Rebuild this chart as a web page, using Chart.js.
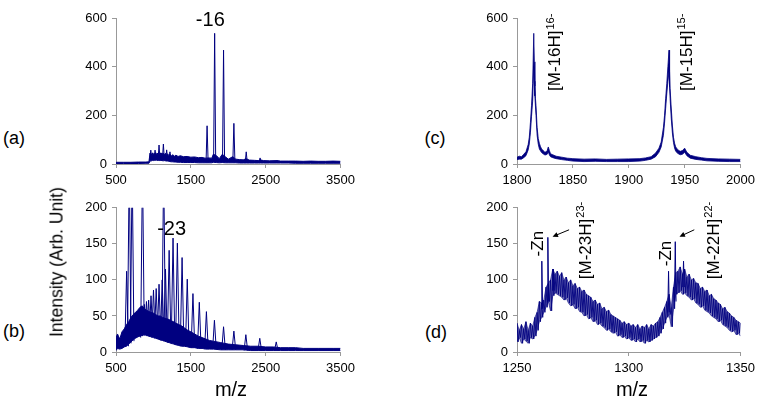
<!DOCTYPE html>
<html>
<head>
<meta charset="utf-8">
<script src="https://cdn.jsdelivr.net/npm/chart.js@4.4.1/dist/chart.umd.min.js"></script>
<style>
  body { margin: 0; background: #fff; }
  #page { position: relative; width: 762px; height: 401px; overflow: hidden; font-family: "Liberation Sans", Arial, sans-serif; }
  canvas { position: absolute; }
  .lbl { position: absolute; transform: translate(-50%, -50%); white-space: nowrap; color: #000; }
</style>
</head>
<body>
<div id="page">
  <canvas id="chartA" width="300" height="195" style="left:60px;top:0px"></canvas>
  <canvas id="chartB" width="300" height="185" style="left:60px;top:195px"></canvas>
  <canvas id="chartC" width="300" height="195" style="left:460px;top:0px"></canvas>
  <canvas id="chartD" width="300" height="185" style="left:460px;top:195px"></canvas>

  <div class="lbl" style="left:14px;top:138px;font-size:18px">(a)</div>
  <div class="lbl" style="left:14px;top:331px;font-size:18px">(b)</div>
  <div class="lbl" style="left:435px;top:138px;font-size:18px">(c)</div>
  <div class="lbl" style="left:436px;top:332px;font-size:18px">(d)</div>
  <div class="lbl" style="left:57px;top:262px;font-size:17.5px;transform:translate(-50%,-50%) rotate(-90deg)">Intensity (Arb. Unit)</div>
  <div class="lbl" style="left:231px;top:389px;font-size:20px">m/z</div>
  <div class="lbl" style="left:632px;top:389px;font-size:20px">m/z</div>
</div>

<script>
const NAVY = '#000080';
const FONT = '"Liberation Sans", Arial, sans-serif';

// (a) full scan, charge states around -16
const aMz    = [500, 600, 700, 800, 900, 940, 955, 962, 970, 980, 990, 1000, 1010, 1020, 1030, 1040, 1050, 1060, 1070, 1085, 1100, 1115, 1130, 1145, 1160, 1175, 1190, 1205, 1220, 1240, 1260, 1280, 1300, 1330, 1360, 1400, 1450, 1500, 1550, 1600, 1650, 1690, 1730, 1780, 1800, 1840, 1880, 1920, 1960, 2000, 2060, 2100, 2150, 2200, 2240, 2280, 2350, 2400, 2430, 2470, 2550, 2650, 2700, 2800, 2900, 3000, 3100, 3200, 3300, 3400, 3500];
const aUpper = [7, 7, 7, 8, 8, 9, 45, 30, 42, 35, 46, 38, 44, 36, 47, 38, 45, 40, 48, 38, 46, 40, 45, 38, 44, 36, 42, 35, 40, 34, 38, 32, 36, 31, 34, 30, 31, 28, 29, 26, 27, 24, 25, 24, 40, 35, 22, 40, 30, 20, 30, 20, 18, 17, 22, 16, 15, 14, 17, 14, 13, 14, 12, 12, 12, 11, 12, 11, 11, 12, 11];
const aLower = [2, 2, 2, 2, 3, 3, 12, 14, 13, 14, 15, 14, 15, 16, 15, 16, 15, 14, 15, 14, 15, 14, 13, 14, 13, 12, 12, 11, 10, 9, 9, 8, 8, 7, 7, 6, 6, 6, 6, 5, 5, 5, 5, 5, 7, 6, 5, 6, 5, 5, 5, 5, 4, 4, 4, 4, 4, 4, 4, 4, 4, 4, 4, 4, 3, 3, 3, 3, 3, 3, 3];
const aPeakMz   = [965, 1022, 1075, 1133, 1177, 1221, 1717, 1818, 1937, 2075, 2240, 2425, 2650];
const aPeakTop  = [57, 57, 78, 82, 58, 50, 157, 537, 468, 167, 50, 25, 14];
const aPeakBase = [14, 15, 15, 14, 13, 13, 6, 8, 7, 6, 5, 5, 5];

// (b) full scan, charge states around -23
const bMz    = [500, 520, 550, 580, 610, 640, 670, 700, 730, 760, 790, 820, 850, 880, 910, 940, 970, 1000, 1030, 1060, 1090, 1120, 1150, 1180, 1210, 1240, 1270, 1300, 1340, 1380, 1420, 1460, 1500, 1550, 1600, 1650, 1700, 1750, 1800, 1900, 2000, 2100, 2200, 2300, 2400, 2500, 2600, 2700, 2800, 2900, 3000, 3200, 3400, 3500];
const bUpper = [20, 25, 18, 28, 32, 38, 42, 48, 52, 55, 58, 62, 64, 60, 58, 56, 55, 54, 52, 50, 50, 48, 47, 46, 45, 43, 42, 40, 38, 36, 33, 30, 28, 25, 22, 20, 18, 16, 15, 13, 11, 10, 9, 8, 8, 7, 7, 6, 6, 6, 5, 5, 5, 5];
const bLower = [2, 5, 4, 5, 7, 8, 11, 14, 17, 19, 21, 22, 23, 24, 23, 22, 21, 20, 19, 18, 17, 16, 15, 14, 13, 12, 11, 10, 9, 8, 8, 7, 6, 6, 5, 5, 4, 4, 4, 3, 3, 3, 3, 2, 2, 2, 2, 2, 2, 2, 2, 2, 2, 2];
const bPeakMz   = [642, 677, 716, 806, 829, 854, 879, 907, 936, 968, 1001, 1037, 1075, 1117, 1137, 1161, 1210, 1262, 1320, 1383, 1452, 1528, 1613, 1708, 1815, 1937, 2075, 2235, 2421, 2641];
const bPeakTop  = [112, 260, 260, 58, 62, 260, 66, 70, 72, 78, 86, 88, 94, 100, 260, 115, 141, 158, 151, 131, 101, 81, 69, 56, 44, 35, 29, 24, 19, 14];
const bPeakBase = [8, 12, 15, 20, 22, 23, 24, 23, 22, 21, 20, 19, 18, 16, 16, 15, 13, 11, 10, 8, 7, 6, 5, 4, 4, 3, 3, 2, 2, 2];

// (c) zoom on 16- and 15-
const cMz    = [1800, 1802, 1804, 1806, 1808, 1810, 1811, 1812, 1813, 1814, 1815, 1815.5, 1816, 1816.5, 1817, 1818, 1819, 1820, 1821, 1822, 1823, 1824, 1825, 1826, 1827, 1828, 1829, 1830, 1832, 1835, 1840, 1845, 1850, 1860, 1870, 1880, 1890, 1900, 1910, 1915, 1920, 1924, 1927, 1929, 1931, 1932, 1933, 1934, 1935, 1936, 1936.5, 1937, 1938, 1939, 1940, 1941, 1942, 1944, 1946, 1948, 1950, 1952, 1955, 1960, 1965, 1970, 1980, 1990, 2000];
const cUpper = [28, 32, 30, 40, 50, 80, 110, 170, 240, 330, 537, 420, 320, 270, 240, 150, 105, 85, 72, 62, 58, 52, 48, 50, 55, 70, 55, 42, 38, 32, 28, 24, 22, 20, 21, 19, 20, 21, 22, 25, 30, 45, 65, 90, 150, 200, 270, 330, 400, 468, 380, 310, 230, 160, 110, 85, 70, 58, 52, 55, 65, 48, 36, 30, 26, 23, 21, 20, 19];
const cLower = [18, 20, 20, 26, 34, 58, 82, 128, 196, 258, 400, 340, 280, 238, 200, 118, 82, 62, 54, 47, 43, 40, 37, 38, 40, 50, 37, 30, 26, 22, 18, 15, 12, 10, 11, 10, 10, 10, 12, 15, 20, 30, 48, 70, 118, 168, 228, 288, 338, 380, 318, 268, 188, 128, 88, 65, 52, 43, 38, 40, 48, 34, 24, 19, 16, 13, 11, 10, 10];

// (d) zoom on 23- and 22-
const dMz    = [1250, 1251, 1252, 1253, 1254, 1255, 1256, 1257, 1258, 1259, 1260, 1261, 1262, 1263, 1264, 1265, 1266, 1267, 1268, 1269, 1270, 1271, 1272, 1273, 1274, 1275, 1276, 1277, 1278, 1279, 1280, 1281, 1282, 1283, 1284, 1285, 1286, 1287, 1288, 1289, 1290, 1291, 1292, 1293, 1294, 1295, 1296, 1297, 1298, 1299, 1300, 1301, 1302, 1303, 1304, 1305, 1306, 1307, 1308, 1309, 1310, 1311, 1312, 1313, 1314, 1315, 1316, 1317, 1318, 1319, 1320, 1321, 1322, 1323, 1324, 1325, 1326, 1327, 1328, 1329, 1330, 1331, 1332, 1333, 1334, 1335, 1336, 1337, 1338, 1339, 1340, 1341, 1342, 1343, 1344, 1345, 1346, 1347, 1348, 1349, 1350];
const dUpper = [40, 30, 38, 32, 42, 30, 40, 36, 48, 55, 70, 68, 72, 90, 95, 100, 115, 108, 112, 105, 110, 100, 104, 96, 100, 92, 95, 88, 90, 84, 86, 80, 78, 76, 70, 72, 66, 68, 60, 62, 56, 58, 52, 50, 48, 46, 44, 40, 42, 38, 40, 36, 38, 34, 38, 32, 36, 34, 38, 32, 38, 36, 40, 42, 48, 55, 62, 70, 80, 62, 90, 110, 112, 118, 108, 115, 104, 108, 100, 102, 96, 95, 88, 90, 84, 86, 78, 80, 74, 72, 68, 66, 60, 62, 56, 54, 50, 48, 44, 42, 40];
const dLower = [14, 20, 12, 18, 15, 12, 20, 18, 22, 30, 42, 48, 55, 62, 70, 57, 78, 82, 80, 78, 76, 72, 75, 68, 64, 66, 60, 62, 56, 55, 50, 52, 46, 48, 42, 44, 38, 40, 36, 34, 30, 32, 28, 26, 28, 22, 24, 20, 22, 18, 20, 16, 18, 14, 18, 14, 16, 12, 16, 14, 16, 18, 20, 22, 26, 32, 40, 48, 52, 35, 60, 80, 82, 85, 80, 82, 78, 76, 72, 74, 68, 66, 62, 64, 58, 56, 54, 50, 48, 46, 42, 44, 38, 36, 34, 30, 28, 30, 24, 26, 22];
const dPeakMz   = [1261.1, 1263.8, 1266.3, 1317.8, 1320.8, 1324.5];
const dPeakTop  = [126, 159, 115, 112, 153, 126];
const dPeakBase = [60, 70, 85, 55, 70, 90];

Chart.defaults.font.family = FONT;
Chart.defaults.color = '#000';

function pts(xs, ys) {
  return xs.map((x, i) => ({ x: x, y: ys[i] }));
}

// noisy trace: alternate the read max / min of each step
function zigzag(xs, hi, lo) {
  const out = [];
  xs.forEach((x, i) => {
    out.push({ x: x, y: hi[i] }, { x: x + 0.5, y: lo[i] });
  });
  return out;
}

// narrow peaks drawn as thin wedges, separated by gaps
function sticks(mz, top, base, hw) {
  const out = [];
  mz.forEach((m, i) => {
    out.push({ x: m - hw, y: base[i] }, { x: m, y: top[i] }, { x: m + hw, y: base[i] }, { x: m + hw, y: null });
  });
  return out;
}

function notesPlugin(notes, arrows) {
  return {
    id: 'notes',
    afterDraw(chart) {
      const ctx = chart.ctx, xs = chart.scales.x, ys = chart.scales.y;
      ctx.save();
      ctx.fillStyle = '#000';
      ctx.strokeStyle = '#000';
      (notes || []).forEach(n => {
        const px = xs.getPixelForValue(n.x), py = ys.getPixelForValue(n.y);
        ctx.save();
        ctx.translate(px, py);
        ctx.font = n.size + 'px ' + FONT;
        if (n.rotate) {
          ctx.rotate(-Math.PI / 2);
          ctx.textAlign = 'left';
          ctx.textBaseline = 'alphabetic';
          ctx.fillText(n.text, 0, 0);
          if (n.sup) {
            const w = ctx.measureText(n.text).width;
            ctx.font = Math.round(n.size * 0.65) + 'px ' + FONT;
            ctx.fillText(n.sup, w + 1, -n.size * 0.4);
          }
        } else {
          ctx.textAlign = 'center';
          ctx.textBaseline = 'middle';
          ctx.fillText(n.text, 0, 0);
        }
        ctx.restore();
      });
      (arrows || []).forEach(a => {
        const x1 = xs.getPixelForValue(a.x1), y1 = ys.getPixelForValue(a.y1);
        const x2 = xs.getPixelForValue(a.x2), y2 = ys.getPixelForValue(a.y2);
        const ang = Math.atan2(y2 - y1, x2 - x1);
        ctx.lineWidth = 1;
        ctx.beginPath();
        ctx.moveTo(x1, y1);
        ctx.lineTo(x2 - 3 * Math.cos(ang), y2 - 3 * Math.sin(ang));
        ctx.stroke();
        ctx.beginPath();
        ctx.moveTo(x2, y2);
        ctx.lineTo(x2 - 6 * Math.cos(ang - 0.45), y2 - 6 * Math.sin(ang - 0.45));
        ctx.lineTo(x2 - 6 * Math.cos(ang + 0.45), y2 - 6 * Math.sin(ang + 0.45));
        ctx.closePath();
        ctx.fill();
      });
      ctx.restore();
    }
  };
}

function axis(min, max, step, fitFn) {
  return {
    type: 'linear', min: min, max: max,
    ticks: { stepSize: step, autoSkip: false, maxRotation: 0, padding: 5, font: { size: 13 }, color: '#000', callback: v => String(v) },
    grid: { display: true, drawOnChartArea: false, drawTicks: true, tickLength: 4, color: '#999' },
    border: { display: true, color: '#999', width: 1 },
    afterFit: fitFn
  };
}

function makeChart(id, o) {
  const datasets = [
    { data: pts(o.mz, o.lower), borderColor: NAVY, borderWidth: o.lw || 1, pointRadius: 0, fill: false },
    { data: pts(o.mz, o.upper), borderColor: NAVY, borderWidth: o.lw || 1, pointRadius: 0, fill: '-1', backgroundColor: o.bandFill || NAVY }
  ];
  if (o.zigzag) {
    datasets.push({ data: zigzag(o.mz, o.upper, o.lower), borderColor: NAVY, borderWidth: 0.9, pointRadius: 0, fill: false });
  }
  if (o.peakMz) {
    datasets.push({ data: sticks(o.peakMz, o.peakTop, o.peakBase, o.hw), borderColor: NAVY, borderWidth: 1, pointRadius: 0, fill: false, spanGaps: false });
  }
  new Chart(document.getElementById(id), {
    type: 'line',
    data: { datasets: datasets },
    options: {
      responsive: false,
      animation: false,
      events: [],
      layout: { padding: { top: o.padTop, right: o.padRight, left: 0, bottom: 0 } },
      elements: { line: { tension: 0 } },
      plugins: { legend: { display: false }, tooltip: { enabled: false } },
      scales: {
        x: axis(o.xMin, o.xMax, o.xStep, s => { s.height = o.xH; }),
        y: Object.assign(axis(0, o.yMax, o.yStep, s => { s.width = o.yW; }), { position: 'left' })
      }
    },
    plugins: [notesPlugin(o.notes, o.arrows)]
  });
}

makeChart('chartA', {
  mz: aMz, upper: aUpper, lower: aLower,
  peakMz: aPeakMz, peakTop: aPeakTop, peakBase: aPeakBase, hw: 14,
  xMin: 500, xMax: 3500, xStep: 1000, yMax: 600, yStep: 200,
  padTop: 18, padRight: 18, yW: 56, xH: 31,
  notes: [{ text: '-16', x: 1760, y: 588, size: 20 }]
});

makeChart('chartB', {
  mz: bMz, upper: bUpper, lower: bLower,
  peakMz: bPeakMz, peakTop: bPeakTop, peakBase: bPeakBase, hw: 24,
  xMin: 500, xMax: 3500, xStep: 1000, yMax: 200, yStep: 50,
  padTop: 11, padRight: 18, yW: 56, xH: 28,
  notes: [{ text: '-23', x: 1243, y: 170, size: 20 }]
});

makeChart('chartC', {
  mz: cMz, upper: cUpper, lower: cLower, lw: 0.8,
  xMin: 1800, xMax: 2000, xStep: 50, yMax: 600, yStep: 200,
  padTop: 18, padRight: 16, yW: 57, xH: 31,
  notes: [
    { text: '[M-16H]', sup: '16-', x: 1838.8, y: 300, size: 17, rotate: true },
    { text: '[M-15H]', sup: '15-', x: 1956.8, y: 300, size: 17, rotate: true }
  ]
});

makeChart('chartD', {
  mz: dMz, upper: dUpper, lower: dLower, zigzag: true, lw: 0.6, bandFill: 'rgba(0, 0, 128, 0.55)',
  peakMz: dPeakMz, peakTop: dPeakTop, peakBase: dPeakBase, hw: 0.35,
  xMin: 1250, xMax: 1350, xStep: 50, yMax: 200, yStep: 50,
  padTop: 11, padRight: 16, yW: 57, xH: 28,
  notes: [
    { text: '-Zn', x: 1261.5, y: 132.6, size: 17, rotate: true },
    { text: '[M-23H]', sup: '23-', x: 1283, y: 101, size: 17, rotate: true },
    { text: '-Zn', x: 1318.7, y: 119, size: 17, rotate: true },
    { text: '[M-22H]', sup: '22-', x: 1340.3, y: 101, size: 17, rotate: true }
  ],
  arrows: [
    { x1: 1273.3, y1: 169.5, x2: 1265.9, y2: 160 },
    { x1: 1329.3, y1: 169.5, x2: 1322.7, y2: 160 }
  ]
});
</script>
</body>
</html>
